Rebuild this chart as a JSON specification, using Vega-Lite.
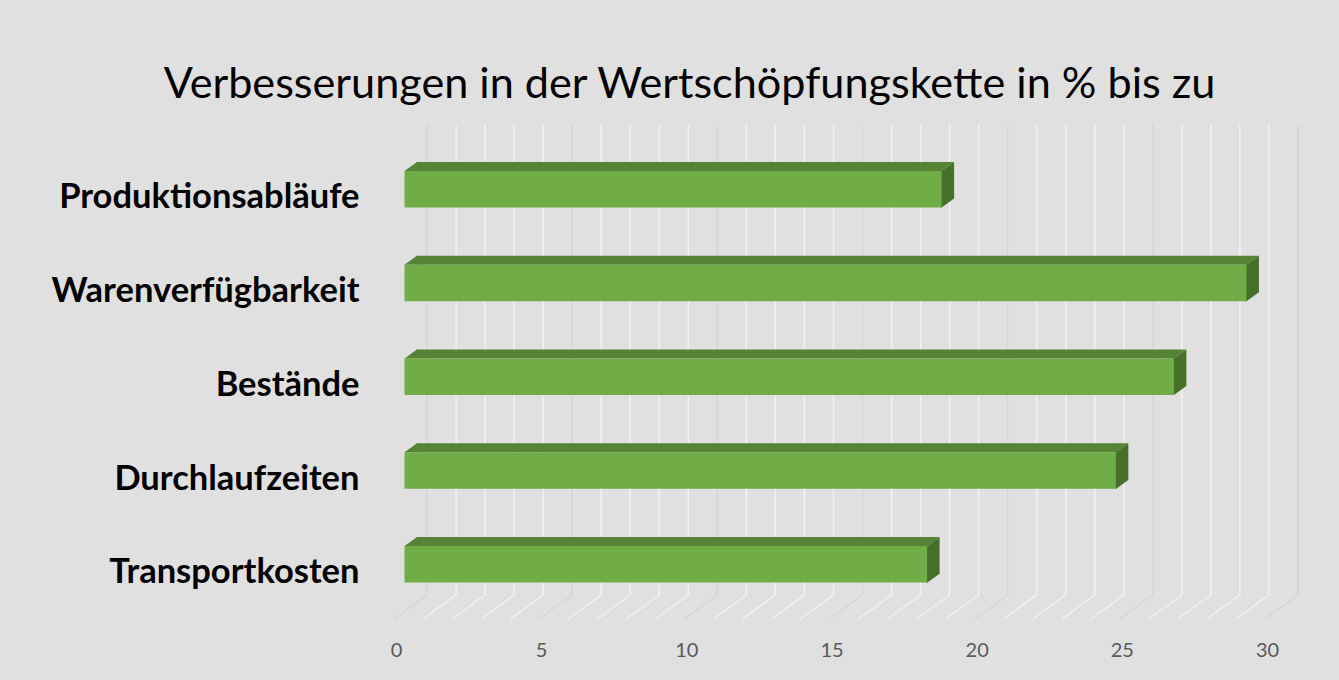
{
  "$schema": "https://vega.github.io/schema/vega-lite/v6.json",
  "width": 871,
  "height": 470,
  "autosize": {"type": "none"},
  "padding": {"left": 404.5, "top": 125, "right": 63.5, "bottom": 85},
  "background": "#e0e0e0",
  "title": {
    "text": "Verbesserungen in der Wertschöpfungskette in % bis zu",
    "font": "Lato", "fontSize": 43.2, "fontWeight": "normal", "color": "#000000",
    "anchor": "middle", "frame": "group", "baseline": "alphabetic", "offset": -17, "dx": -150.5
  },
  "config": {
    "view": {"stroke": null},
    "axisX": {"grid": false, "domain": false, "ticks": false, "labelFont": "Lato", "labelFontSize": 20, "labelColor": "#595959", "labelPadding": 55, "labelBaseline": "middle", "labelOffset": -8.5, "labelFlush": false, "tickCount": 6},
    "axisY": {"grid": false, "domain": false, "ticks": false, "labelFont": "Lato", "labelFontWeight": "bold", "labelFontSize": 34.5, "labelColor": "#000000", "labelPadding": 45.5, "labelLimit": 0, "labelOffset": 9}
  },
  "datasets": {
    "bars": [
      {"Bereich": "Produktionsabläufe", "Wert": 18.5},
      {"Bereich": "Warenverfügbarkeit", "Wert": 29},
      {"Bereich": "Bestände", "Wert": 26.5},
      {"Bereich": "Durchlaufzeiten", "Wert": 24.5},
      {"Bereich": "Transportkosten", "Wert": 18}
    ],
    "grid": [
      {"k": 0}, {"k": 1}, {"k": 2}, {"k": 3}, {"k": 4}, {"k": 5}, {"k": 6}, {"k": 7}, {"k": 8}, {"k": 9},
      {"k": 10}, {"k": 11}, {"k": 12}, {"k": 13}, {"k": 14}, {"k": 15}, {"k": 16}, {"k": 17}, {"k": 18}, {"k": 19},
      {"k": 20}, {"k": 21}, {"k": 22}, {"k": 23}, {"k": 24}, {"k": 25}, {"k": 26}, {"k": 27}, {"k": 28}, {"k": 29}, {"k": 30}
    ]
  },
  "layer": [
    {
      "data": {"name": "grid"},
      "mark": {"type": "rule", "xOffset": 22.5, "strokeWidth": 1.5},
      "encoding": {
        "x": {"field": "k", "type": "quantitative", "title": null, "scale": {"domain": [0, 30], "nice": false}},
        "stroke": {"condition": {"test": "datum.k % 5 === 0", "value": "#d5d5d5"}, "value": "#f2f2f2"}
      }
    },
    {
      "data": {"name": "grid"},
      "mark": {"type": "rule", "xOffset": -10.5, "x2Offset": 22.5, "strokeWidth": 1.5},
      "encoding": {
        "x": {"field": "k", "type": "quantitative", "title": null},
        "x2": {"field": "k"},
        "y": {"value": {"expr": "height + 24"}},
        "y2": {"value": {"expr": "height"}},
        "stroke": {"condition": {"test": "datum.k % 5 === 0", "value": "#d5d5d5"}, "value": "#f2f2f2"}
      }
    },
    {
      "data": {"name": "bars"},
      "mark": {"type": "bar", "color": "#568336", "height": 9, "yOffset": -22.78, "x2Offset": 12.5},
      "encoding": {
        "x": {"field": "Wert", "type": "quantitative", "title": null},
        "x2": {"datum": 0},
        "y": {"field": "Bereich", "type": "nominal", "title": null, "scale": {"type": "band", "domain": ["Produktionsabläufe", "Warenverfügbarkeit", "Bestände", "Durchlaufzeiten", "Transportkosten"], "paddingInner": 0.61, "paddingOuter": 0.3115, "align": 0.788}}
      }
    },
    {
      "data": {"name": "bars"},
      "mark": {"type": "point", "shape": "M0,-18.3L12.5,-27.3L14,-27.3L14,-18.3Z", "size": 4, "filled": true, "color": "#568336", "opacity": 1, "strokeWidth": 0},
      "encoding": {
        "x": {"datum": 0},
        "y": {"field": "Bereich", "type": "nominal", "title": null}
      }
    },
    {
      "data": {"name": "bars"},
      "mark": {"type": "point", "shape": "M-1,-18.3L-1,-27.3L12.5,-27.3L0,-18.3Z", "size": 4, "filled": true, "color": "#568336", "opacity": 1, "strokeWidth": 0},
      "encoding": {
        "x": {"field": "Wert", "type": "quantitative", "title": null},
        "y": {"field": "Bereich", "type": "nominal", "title": null}
      }
    },
    {
      "data": {"name": "bars"},
      "mark": {"type": "point", "shape": "M-1,-18.3L0,-18.3L12.5,-27.3L12.5,9.3L0,18.3L-1,18.3Z", "size": 4, "filled": true, "color": "#48702b", "opacity": 1, "strokeWidth": 0},
      "encoding": {
        "x": {"field": "Wert", "type": "quantitative", "title": null},
        "y": {"field": "Bereich", "type": "nominal", "title": null}
      }
    },
    {
      "data": {"name": "bars"},
      "mark": {"type": "bar", "color": "#70ad47"},
      "encoding": {
        "x": {"field": "Wert", "type": "quantitative", "title": null},
        "y": {"field": "Bereich", "type": "nominal", "title": null}
      }
    }
  ]
}
